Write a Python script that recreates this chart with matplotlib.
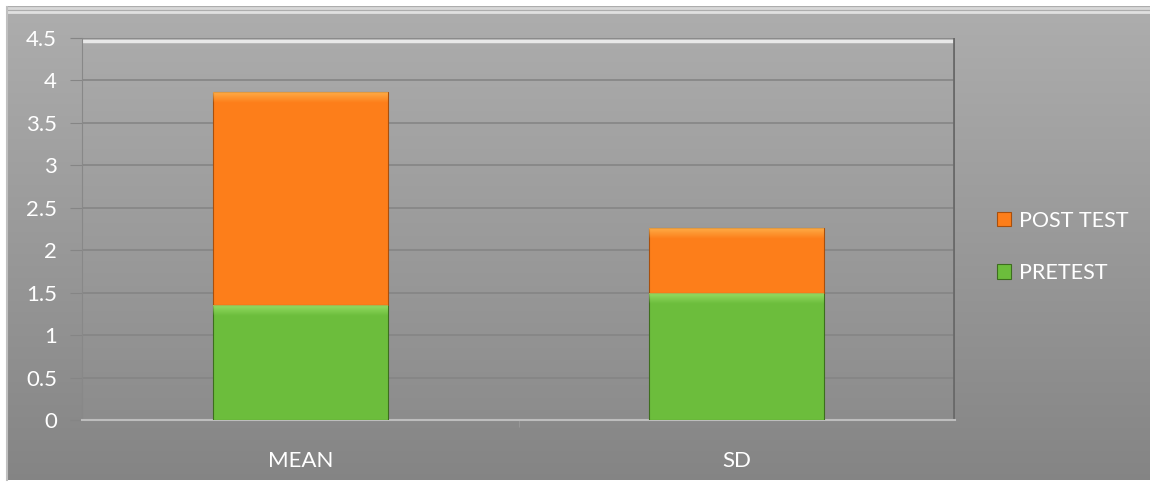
import numpy as np
import matplotlib.pyplot as plt
from matplotlib.patches import Rectangle

categories = ["MEAN", "SD"]
pretest = [1.36, 1.5]
posttest = [2.5, 0.76]
series_names = ["PRETEST", "POST TEST"]

plt.rcParams['font.family'] = ['Lato', 'DejaVu Sans']

fig = plt.figure(figsize=(11.5, 4.86), dpi=100)
W, H = 1150, 486

# background: grey panel with vertical gradient
bg = fig.add_axes([0, 0, 1, 1])
bg.set_xlim(0, W)
bg.set_ylim(H, 0)
bg.axis("off")
grad = np.linspace(0, 1, 256).reshape(-1, 1)
top = np.array([0.68, 0.68, 0.68])
bot = np.array([0.52, 0.52, 0.52])
img = top + (bot - top) * grad[..., None]
bg.imshow(img, extent=[7, 1150, 480, 7], aspect="auto", zorder=0)
bg.add_patch(Rectangle((0, 0), W, H, facecolor="white", zorder=-1))
bg.plot([7, 1150], [8, 8], color="#d8d8d8", lw=2, zorder=1)
bg.plot([7, 1150], [12, 12], color="#eeeeee", lw=2, zorder=1, alpha=0.8)
bg.plot([7, 7], [7, 480], color="#c0c0c0", lw=1.5, zorder=1)

ax = fig.add_axes([82 / W, 1 - 420 / H, (955 - 82) / W, (420 - 38) / H])
ax.set_facecolor("none")
# plot area gradient
pa = np.array([0.67, 0.67, 0.67]) + (np.array([0.55, 0.55, 0.55]) - np.array([0.67, 0.67, 0.67])) * grad[..., None]
ax.imshow(pa, extent=[-0.5, 1.5, 0, 4.5], aspect="auto", zorder=0)
ax.plot([-0.5, 1.5], [4.47, 4.47], color="#e8e8e8", lw=2.5, zorder=1)
ax.plot([1.497, 1.497], [0, 4.5], color="#6a6a6a", lw=2, zorder=1)

x = np.arange(len(categories))
w = 0.4
fade = np.linspace(0.7, 0, 32).reshape(-1, 1)


def bevel(ax, x0, y_top, color):
    # soft highlight fading downwards from the top edge of a segment
    rgba = np.zeros((32, 1, 4))
    rgba[..., :3] = color
    rgba[..., 3] = fade
    ax.imshow(rgba, extent=[x0 - w / 2, x0 + w / 2, y_top - 0.12, y_top], aspect="auto",
              zorder=4, interpolation="bilinear")


for i in range(len(x)):
    ax.bar(x[i], pretest[i], w, color="#6cbd3c", edgecolor="#3d6e1e", lw=0.8, zorder=3,
           label=series_names[0] if i == 0 else None)
    ax.bar(x[i], posttest[i], w, bottom=pretest[i], color="#fd7e1a", edgecolor="#a84f0c", lw=0.8,
           zorder=3, label=series_names[1] if i == 0 else None)
    bevel(ax, x[i], pretest[i] - 0.01, (0.65, 0.92, 0.45))
    bevel(ax, x[i], pretest[i] + posttest[i] - 0.01, (1.0, 0.75, 0.35))

ax.set_xlim(-0.5, 1.5)
ax.set_ylim(0, 4.5)
ax.set_yticks(np.arange(0, 4.51, 0.5))
ax.set_yticklabels(["0", "0.5", "1", "1.5", "2", "2.5", "3", "3.5", "4", "4.5"])
ax.yaxis.grid(True, color="#858585", lw=1.2, zorder=1)
ax.set_axisbelow(True)
ax.set_xticks(x)
ax.set_xticklabels(categories)
ax.set_xticks([0.5], minor=True)
ax.tick_params(axis="x", which="major", length=0, pad=22, colors="white", labelsize=16)
ax.tick_params(axis="x", which="minor", length=5, color="#9a9a9a")
ax.tick_params(axis="y", length=9, color="#858585", colors="white", labelsize=16, pad=9)
for s in ["top", "right"]:
    ax.spines[s].set_visible(False)
ax.spines["left"].set_color("#888888")
ax.spines["bottom"].set_color("#bdbdbd")
ax.spines["bottom"].set_linewidth(1.5)

h, l = ax.get_legend_handles_labels()
leg = fig.legend(h[::-1], l[::-1], loc="center left", bbox_to_anchor=(978 / W, 1 - 247 / H),
                 frameon=False, fontsize=15.5, labelcolor="white", handlelength=0.65,
                 handleheight=0.65, handletextpad=0.35, labelspacing=1.5)

fig.savefig("out.png", dpi=100)
